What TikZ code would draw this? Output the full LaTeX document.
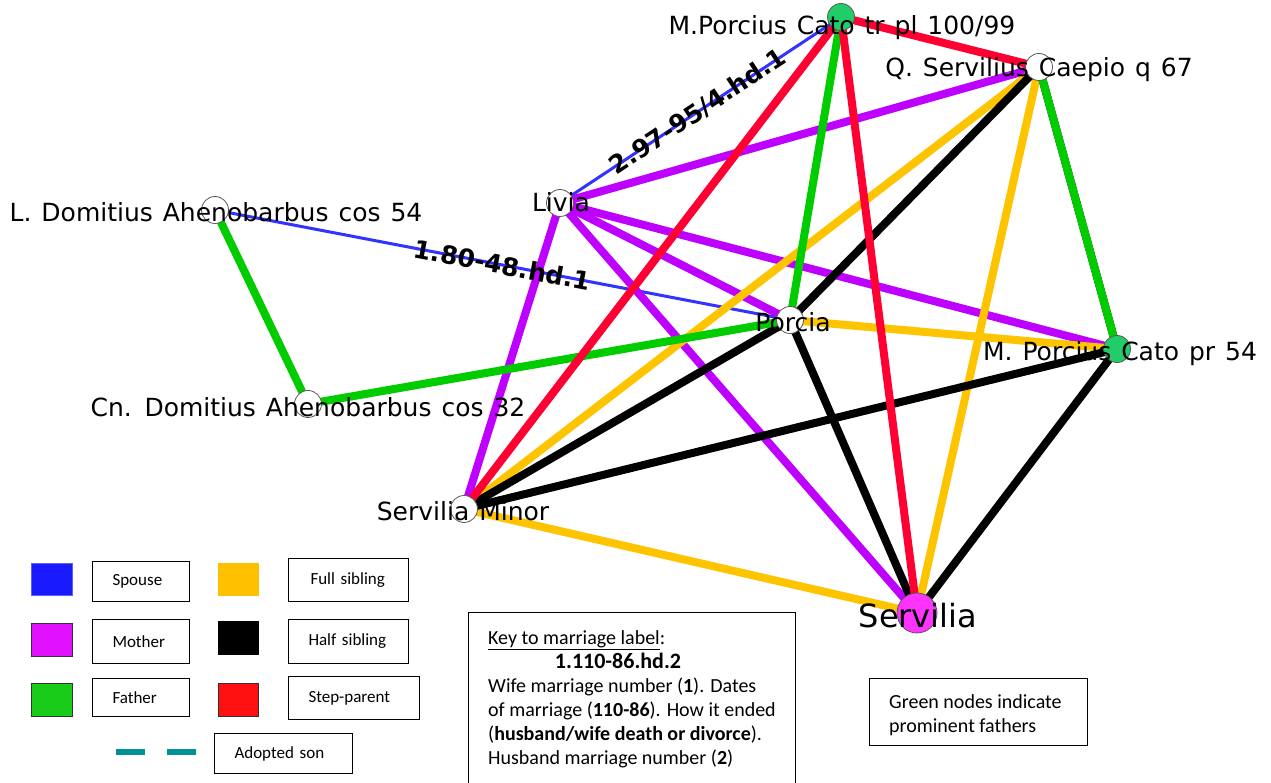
\documentclass[tikz,border=0pt]{standalone}
\usepackage{fontspec}
\setmainfont{DejaVu Sans}
\newfontfamily\namefont{DejaVu Sans}[WordSpace=1.25]
\newfontfamily\legendfont{Carlito}
\definecolor{spouseE}{RGB}{51,51,255}
\definecolor{motherE}{RGB}{190,0,255}
\definecolor{fatherE}{RGB}{0,204,0}
\definecolor{fullE}{RGB}{255,196,0}
\definecolor{stepE}{RGB}{255,0,51}
\definecolor{promG}{RGB}{34,204,102}
\definecolor{servM}{RGB}{255,51,255}
\definecolor{legBlue}{RGB}{26,26,255}
\definecolor{legMother}{RGB}{224,16,255}
\definecolor{legFather}{RGB}{26,204,26}
\definecolor{legFull}{RGB}{255,192,0}
\definecolor{legStep}{RGB}{255,16,16}
\definecolor{legTeal}{RGB}{0,145,145}
\begin{document}
\begin{tikzpicture}[x=1pt,y=-1pt,
  rel/.style={line width=8pt},
  spouse/.style={line width=3pt, draw=spouseE},
  mother/.style={rel, draw=motherE},
  father/.style={rel, draw=fatherE},
  fullsib/.style={rel, draw=fullE},
  halfsib/.style={rel, draw=black},
  stepparent/.style={rel, draw=stepE},
  pnode/.style={circle, draw=black!65, line width=0.8pt, fill=white, minimum size=27pt, inner sep=0pt},
  plabel/.style={anchor=base, inner sep=0pt, font=\namefont\fontsize{25}{29}\selectfont},
  elabel/.style={sloped, inner sep=0pt, font=\bfseries\fontsize{25}{29}\selectfont},
  swatch/.style={line width=0.8pt},
  legbox/.style={draw, line width=1pt, anchor=north west, inner xsep=20pt, inner ysep=0pt, align=left, font=\legendfont\fontsize{17}{20}\selectfont},
  keyline/.style={anchor=base west, inner sep=0pt, font=\legendfont\fontsize{20}{24}\selectfont},
]
\useasboundingbox (0,0) rectangle (1271,783);
\fill[white] (0,0) rectangle (1271,783);

% person positions
\coordinate (mpc)  at (841,17);
\coordinate (qsc)  at (1039,67);
\coordinate (liv)  at (560,203);
\coordinate (lda)  at (215,210);
\coordinate (por)  at (790,320);
\coordinate (mpcp) at (1117,349);
\coordinate (cda)  at (308,404);
\coordinate (sm)   at (464,509);
\coordinate (ser)  at (917,613);

% spouse links
\draw[spouse] (liv) -- (mpc);
\draw[spouse] (lda) -- (por);

% mother links
\draw[mother] (liv) -- (qsc);
\draw[mother] (liv) -- (sm);
\draw[mother] (liv) -- (por);
\draw[mother] (liv) -- (mpcp);
\draw[mother] (liv) -- (ser);

% full siblings
\draw[fullsib] (qsc) -- (sm);
\draw[fullsib] (qsc) -- (ser);
\draw[fullsib] (por) -- (mpcp);
\draw[fullsib] (sm) -- (ser);

% half siblings
\draw[halfsib] (qsc) -- (por);
\draw[halfsib] (qsc) -- (mpcp);
\draw[halfsib] (por) -- (sm);
\draw[halfsib] (por) -- (ser);
\draw[halfsib] (mpcp) -- (sm);
\draw[halfsib] (mpcp) -- (ser);

% father links
\draw[father] (lda) -- (cda);
\draw[father] (cda) -- (por);
\draw[father] (mpc) -- (por);
\draw[father] (qsc) -- (mpcp);

% step-parent links
\draw[stepparent] (mpc) -- (qsc);
\draw[stepparent] (mpc) -- (sm);
\draw[stepparent] (mpc) -- (ser);

% person circles
\node[pnode, fill=promG] (mpcC)  at (mpc)  {};
\node[pnode] (qscC)  at (qsc)  {};
\node[pnode] (livC)  at (liv)  {};
\node[pnode] (ldaC)  at (lda)  {};
\node[pnode] (porC)  at (por)  {};
\node[pnode, fill=promG] (mpcpC) at (mpcp) {};
\node[pnode] (cdaC)  at (cda)  {};
\node[pnode] (smC)   at (sm)   {};
\node[pnode, fill=servM, minimum size=40pt] (serC) at (ser) {};

% person names
\node[plabel] (mpcL)  at (842,35)  {M.Porcius Cato tr pl 100/99};
\node[plabel] (qscL)  at (1039,77) {Q. Servilius Caepio q 67};
\node[plabel] (livL)  at (561,212) {Livia};
\node[plabel] (ldaL)  at (216,222) {L. Domitius Ahenobarbus cos 54};
\node[plabel] (porL)  at (793,331) {Porcia};
\node[plabel] (mpcpL) at (1120,360) {M. Porcius Cato pr 54};
\node[plabel] (cdaL)  at (308,416) {Cn. Domitius Ahenobarbus cos 32};
\node[plabel] (smL)   at (463,520) {Servilia Minor};
\node[plabel, font=\namefont\fontsize{32}{36}\selectfont] (serL) at (918,627) {Servilia};

% marriage labels
\path (liv) -- node[elabel, pos=0.49] (m1) {2.97-95/4.hd.1} (mpc);
\path (lda) -- node[elabel, pos=0.5] (m2) {1.80-48.hd.1} (por);

% legend swatches
\draw[swatch, draw=legBlue!70, fill=legBlue] (31,563) rectangle (72,595);
\draw[swatch, draw=black!80, fill=legMother] (31,623) rectangle (72,656);
\draw[swatch, draw=black!80, fill=legFather] (31,683) rectangle (72,716);
\draw[swatch, draw=legFull, fill=legFull] (218,563) rectangle (258,595);
\draw[swatch, draw=black, fill=black] (218,621) rectangle (258,654);
\draw[swatch, draw=black!80, fill=legStep] (218,683) rectangle (258,716);
\draw[legTeal, line width=6pt] (116,752) -- (145,752);
\draw[legTeal, line width=6pt] (167,752) -- (196,752);

% legend captions
\node[legbox, minimum width=97pt, minimum height=40pt, text width=57pt] (lgSpouse) at (92,561) {Spouse};
\node[legbox, minimum width=97pt, minimum height=44pt, text width=57pt] (lgMother) at (92,619) {Mother};
\node[legbox, minimum width=97pt, minimum height=38pt, text width=57pt] (lgFather) at (92,678) {Father};
\node[legbox, minimum width=120pt, minimum height=43pt, text width=76pt, inner xsep=22pt] (lgFull) at (288,558) {Full sibling};
\node[legbox, minimum width=120pt, minimum height=44pt, text width=80pt] (lgHalf) at (288,619) {Half sibling};
\node[legbox, minimum width=131pt, minimum height=43pt, text width=91pt] (lgStep) at (288,676) {Step-parent};
\node[legbox, minimum width=138pt, minimum height=40pt, text width=98pt] (lgAdopt) at (214,733) {Adopted son};

% key to the marriage labels
\draw[line width=1pt] (468,783) -- (468,612) -- (795,612) -- (795,783);
\node[keyline] (k1) at (488,644) {\underline{Key to marriage label}:};
\node[keyline, anchor=base, font=\legendfont\fontsize{22}{24}\selectfont] (k2) at (618,668) {\textbf{1.110-86.hd.2}};
\node[keyline] (k3) at (488,692) {Wife marriage number (\textbf{1}). Dates};
\node[keyline] (k4) at (488,716) {of marriage (\textbf{110-86}). How it ended};
\node[keyline] (k5) at (488,740) {(\textbf{husband/wife death or divorce}).};
\node[keyline] (k6) at (488,764) {Husband marriage number (\textbf{2})};

% note on node colours
\draw[line width=1pt] (869,678) rectangle (1087,745);
\node[keyline] (g1) at (889,708) {Green nodes indicate};
\node[keyline] (g2) at (889,732) {prominent fathers};
\end{tikzpicture}
\end{document}
